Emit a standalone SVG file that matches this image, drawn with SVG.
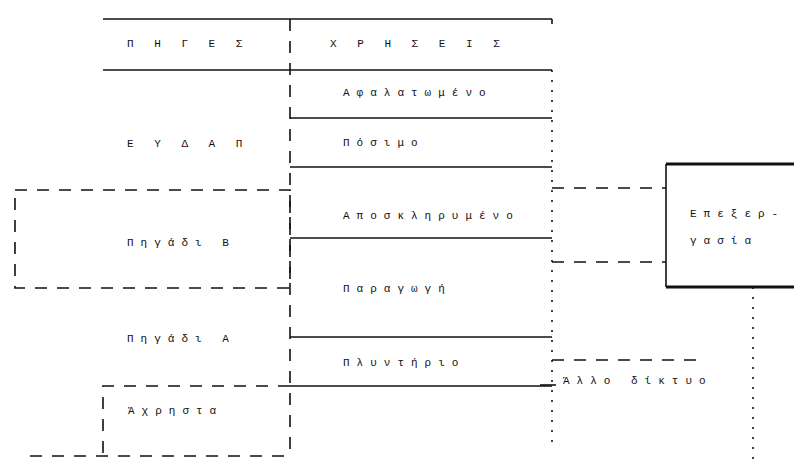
<svg xmlns="http://www.w3.org/2000/svg" width="794" height="459" viewBox="0 0 794 459">
<style>
text{font-family:"Liberation Mono","DejaVu Sans Mono",monospace;font-size:11px;fill:#111;letter-spacing:7px}
.solid{stroke:#111;stroke-width:1.6;fill:none}
.dash{stroke:#111;stroke-width:1.6;fill:none;stroke-dasharray:12 10}
.dot{stroke:#111;stroke-width:1.6;fill:none;stroke-dasharray:2 8}
.thick{stroke:#111;stroke-width:3;fill:none}
</style>
<rect width="794" height="459" fill="#fff"/>
<g id="connectors">
<line class="solid" x1="103" y1="19" x2="552" y2="19"/>
<line class="solid" x1="552" y1="19" x2="552" y2="24"/>
<line class="solid" x1="103" y1="70" x2="552" y2="70"/>
<line class="dash" x1="290" y1="19" x2="290" y2="459"/>
<line class="dot" x1="552" y1="70" x2="552" y2="445"/>
<line class="dot" x1="753" y1="287" x2="753" y2="459"/>
<line class="dash" x1="552" y1="188" x2="666" y2="188"/>
<line class="dash" x1="552" y1="262" x2="666" y2="262"/>
<line class="dash" x1="552" y1="360" x2="700" y2="360"/>
<line class="solid" x1="540" y1="385" x2="556" y2="385"/>
</g>
<g id="header">
<text x="127" y="47">Π Η Γ Ε Σ</text>
<text x="330" y="47">Χ Ρ Η Σ Ε Ι Σ</text>
</g>
<g id="eydap">
<text x="127" y="147">Ε Υ Δ Α Π</text>
</g>
<g id="use-afalatomeno">
<text x="343" y="96">Αφαλατωμένο</text>
<line class="solid" x1="290" y1="118" x2="552" y2="118"/>
</g>
<g id="use-posimo">
<text x="343" y="146">Πόσιμο</text>
<line class="solid" x1="290" y1="167" x2="552" y2="167"/>
</g>
<g id="use-aposklirymeno">
<text x="343" y="219">Αποσκληρυμένο</text>
<line class="solid" x1="290" y1="238" x2="552" y2="238"/>
</g>
<g id="use-paragogi">
<text x="343" y="292">Παραγωγή</text>
<line class="solid" x1="290" y1="337" x2="552" y2="337"/>
</g>
<g id="use-plyntirio">
<text x="343" y="366">Πλυντήριο</text>
<line class="solid" x1="290" y1="386" x2="552" y2="386"/>
</g>
<g id="pigadi-b">
<rect class="dash" x="15" y="190" width="275" height="98"/>
<text x="127" y="246">Πηγάδι Β</text>
</g>
<g id="pigadi-a">
<text x="127" y="342">Πηγάδι Α</text>
</g>
<g id="axrista">
<path class="dash" d="M290 386 H103 V459"/>
<line class="dash" x1="30" y1="456" x2="290" y2="456"/>
<text x="128" y="414">Άχρηστα</text>
</g>
<g id="epexergasia">
<line class="thick" x1="666" y1="164" x2="796" y2="164"/>
<line class="thick" x1="666" y1="287" x2="796" y2="287"/>
<line class="solid" x1="666" y1="164" x2="666" y2="287"/>
<text x="690" y="217">Επεξερ-</text>
<text x="690" y="244">γασία</text>
</g>
<g id="allo-diktyo">
<text x="563" y="384">Άλλο δίκτυο</text>
</g>
</svg>
